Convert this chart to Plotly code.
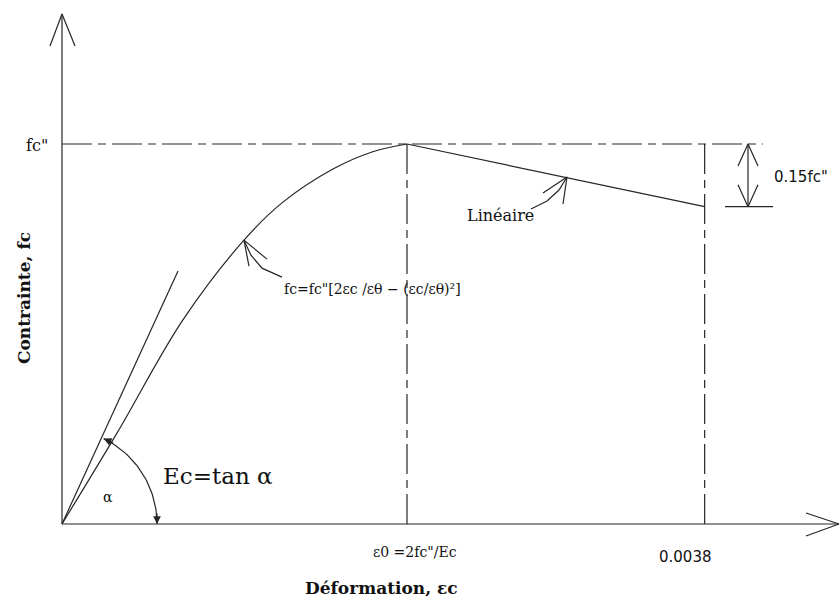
import math
import plotly.graph_objects as go

# ---------------- data ----------------
eps0 = 0.00204          # strain at peak (ε0)
eps_u = 0.0038          # ultimate strain
curve_strain = [0, 0.000325, 0.000715, 0.001076, 0.001301, 0.001602, 0.001833, 0.00204]
curve_stress = [0, 0.239, 0.537, 0.747, 0.845, 0.934, 0.979, 1.0]
linear_strain = [eps0, eps_u]
linear_stress = [1.0, 0.835]
tangent_strain = [0, 0.000686]
tangent_stress = [0, 0.666]

# ---------------- geometry / scales ----------------
W, H = 840, 601
OX, OY = 62, 524                 # origin in pixels
XS = (407 - OX) / eps0           # pixels per strain unit
YS = 380.0                       # pixels per fc"
x_range = [-OX / XS, (W - OX) / XS]
y_range = [-(H - OY) / YS, OY / YS]

def P(px, py):
    """pixel position -> data coords"""
    return (px - OX) / XS, (OY - py) / YS

def off(x, y, dx, dy):
    """offset a data point by screen pixels (dy positive down)"""
    return x + dx / XS, y - dy / YS

COL = "#262626"
LW = 1.2
DASH = "30px,6px,8px,6px"

fig = go.Figure()

def line(xs, ys, dash=None, width=LW, shape="linear"):
    fig.add_trace(go.Scatter(x=xs, y=ys, mode="lines",
                             line=dict(color=COL, width=width, dash=dash, shape=shape),
                             hoverinfo="skip", showlegend=False))

def poly_px(x0, y0, offsets):
    xs, ys = [], []
    for dx, dy in offsets:
        a, b = off(x0, y0, dx, dy)
        xs.append(a); ys.append(b)
    line(xs, ys)

# axes
ytip = P(OX, 14)
line([0, 0], [0, ytip[1]])
poly_px(0, ytip[1], [(-12, 32), (0, 0), (13, 32)])
xtip = P(839, OY)
line([0, xtip[0]], [0, 0])
poly_px(xtip[0], 0, [(-33, -11), (0, 0), (-33, 12)])

# reference dash-dot lines
hx_end = P(763, 0)[0]
line([0, hx_end], [1.0, 1.0], dash=DASH)
line([eps0, eps0], [1.0, 0], dash=DASH)
line([eps_u, eps_u], [1.0, 0], dash=DASH)

# stress-strain curve
line(curve_strain, curve_stress, shape="spline")
line(linear_strain, linear_stress)
line(tangent_strain, tangent_stress)

# alpha arc
R = 95
arc_x, arc_y = [], []
for i in range(41):
    t = math.radians(64 * i / 40)
    a, b = off(0, 0, R * math.cos(t), -R * math.sin(t))
    arc_x.append(a); arc_y.append(b)
line(arc_x, arc_y)

# 0.15fc" dimension
dimx = P(748, 0)[0]
line([dimx, dimx], [1.0, linear_stress[1]])
poly_px(dimx, 1.0, [(-10, 22), (0, 0), (10, 22)])
poly_px(dimx, linear_stress[1], [(-10, -22), (0, 0), (10, -22)])
line([P(725, 0)[0], P(773, 0)[0]], [linear_stress[1], linear_stress[1]])

# pointer to the parabola
px0, py0 = curve_strain[3], curve_stress[3]
poly_px(px0, py0, [(5, 26), (0, 0), (23, 19)])
poly_px(px0, py0, [(0, 0), (7, 15), (18, 28), (38, 37)])

# pointer to linear branch
lx, ly = P(567, 177)
poly_px(lx, ly, [(-4, 27), (0, 0), (-24, 16)])
poly_px(lx, ly, [(0, 0), (-8, 13), (-20, 24), (-36, 32)])

# arrowheads of alpha arc
ann = []
t_top = math.radians(64)
tipx, tipy = off(0, 0, R * math.cos(t_top), -R * math.sin(t_top))
ann.append(dict(x=tipx, y=tipy, ax=11, ay=5, xref="x", yref="y", text="",
                showarrow=True, arrowhead=2, arrowsize=1.3, arrowwidth=1.2, arrowcolor=COL))
tipx2, tipy2 = off(0, 0, R, 0)
ann.append(dict(x=tipx2, y=tipy2, ax=0, ay=-12, xref="x", yref="y", text="",
                showarrow=True, arrowhead=2, arrowsize=1.3, arrowwidth=1.2, arrowcolor=COL))

SERIF = "DejaVu Serif"
SANS = "DejaVu Sans"

def text(px, py, s, size, family=SERIF, angle=0, xanchor="center"):
    x, y = P(px, py)
    ann.append(dict(x=x, y=y, xref="x", yref="y", text=s, showarrow=False,
                    textangle=angle, xanchor=xanchor, yanchor="middle",
                    font=dict(family=family, size=size, color="#111")))

text(37, 145, 'fc"', 16)
text(372, 289, 'fc=fc"[2εc /εθ − (εc/εθ)²]', 14)
text(500, 215, "Linéaire", 16)
text(801, 177, '0.15fc"', 15, family=SANS)
text(218, 476, "Ec=tan α", 23)
text(108, 497, "α", 14)
text(415, 552, 'ε0 =2fc"/Ec', 14)
text(685, 557, "0.0038", 15, family=SANS)
text(381, 588, "<b>Déformation, εc</b>", 17)
text(24, 298, "<b>Contrainte, fc</b>", 17, angle=-90)

fig.update_layout(
    width=W, height=H,
    margin=dict(l=0, r=0, t=0, b=0),
    paper_bgcolor="white", plot_bgcolor="white",
    xaxis=dict(range=x_range, visible=False, fixedrange=True),
    yaxis=dict(range=y_range, visible=False, fixedrange=True),
    annotations=ann,
)

fig.write_html("out.html")
